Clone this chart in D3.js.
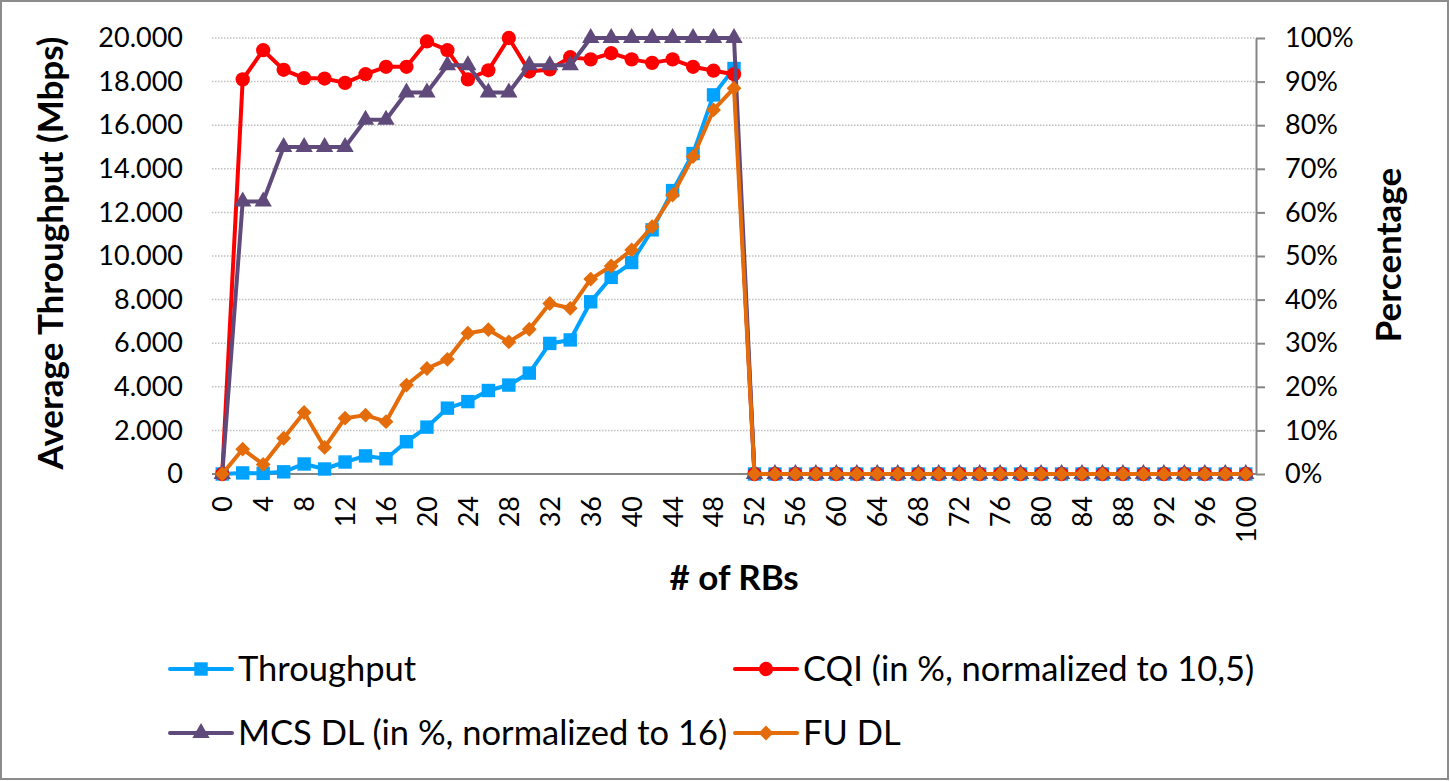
<!DOCTYPE html>
<html>
<head>
<meta charset="utf-8">
<script src="https://cdnjs.cloudflare.com/ajax/libs/d3/7.8.5/d3.min.js"></script>
<style>
  body { margin: 0; background: #fff; }
  svg { display: block; font-family: Lato, "Open Sans", sans-serif; }
</style>
</head>
<body>
<svg id="svg1" width="1450" height="781"></svg>
<script>
// # of RBs (categories)
var rbs = [0, 2, 4, 6, 8, 10, 12, 14, 16, 18, 20, 22, 24, 26, 28, 30, 32, 34, 36, 38, 40,
           42, 44, 46, 48, 50, 52, 54, 56, 58, 60, 62, 64, 66, 68, 70, 72, 74, 76, 78, 80,
           82, 84, 86, 88, 90, 92, 94, 96, 98, 100];

// average throughput, left axis
var throughput = [0, 50, 30, 100, 460, 230, 550, 830, 700, 1480, 2150, 3020, 3320, 3830, 4080, 4630,
                  5990, 6150, 7900, 9020, 9700, 11200, 13000, 14700, 17390, 18600,
                  0, 0, 0, 0, 0, 0, 0, 0, 0, 0, 0, 0, 0, 0, 0, 0, 0, 0, 0, 0, 0, 0, 0, 0, 0];

// percentages, right axis
var cqi = [0, 90.5, 97.2, 92.7, 90.8, 90.7, 89.7, 91.7, 93.4, 93.4, 99.2, 97.2, 90.5, 92.6, 100, 92.3,
           92.8, 95.6, 95.1, 96.5, 95.1, 94.3, 95.1, 93.4, 92.5, 91.7,
           0, 0, 0, 0, 0, 0, 0, 0, 0, 0, 0, 0, 0, 0, 0, 0, 0, 0, 0, 0, 0, 0, 0, 0, 0];

var mcs = [0, 62.5, 62.5, 75, 75, 75, 75, 81.25, 81.25, 87.5, 87.5, 93.75, 93.75, 87.5, 87.5, 93.75,
           93.75, 93.75, 100, 100, 100, 100, 100, 100, 100, 100,
           0, 0, 0, 0, 0, 0, 0, 0, 0, 0, 0, 0, 0, 0, 0, 0, 0, 0, 0, 0, 0, 0, 0, 0, 0];

var fu = [0, 5.7, 2.2, 8.2, 14.1, 6.1, 12.8, 13.5, 12.0, 20.4, 24.2, 26.3, 32.3, 33.1, 30.3, 33.2,
          39.1, 38.0, 44.7, 47.7, 51.4, 56.7, 64.0, 72.8, 83.5, 88.5,
          0, 0, 0, 0, 0, 0, 0, 0, 0, 0, 0, 0, 0, 0, 0, 0, 0, 0, 0, 0, 0, 0, 0, 0, 0];

var leftTicks = [0, 2000, 4000, 6000, 8000, 10000, 12000, 14000, 16000, 18000, 20000];
var rightTicks = [0, 10, 20, 30, 40, 50, 60, 70, 80, 90, 100];

var series = [
    {name: 'Throughput', values: throughput, axis: 'left', color: '#00a2ff', marker: 'square'},
    {name: 'CQI (in %, normalized to 10,5)', values: cqi, axis: 'right', color: '#ff0000', marker: 'circle'},
    {name: 'MCS DL (in %, normalized to 16)', values: mcs, axis: 'right', color: '#604a7b', marker: 'triangle'},
    {name: 'FU DL', values: fu, axis: 'right', color: '#e46c0a', marker: 'diamond'}
];

var plotLeft = 212, plotRight = 1256, plotTop = 38, plotBottom = 474;

var svg = d3.select('svg');

// chart border
svg.append('rect')
    .attr('x', 1).attr('y', 1).attr('width', 1447).attr('height', 778)
    .attr('fill', '#fff').attr('stroke', '#8c8c8c').attr('stroke-width', 2);

var x = d3.scalePoint().domain(rbs).range([plotLeft, plotRight]).padding(0.5);
var yLeft = d3.scaleLinear().domain([0, 20000]).range([plotBottom, plotTop]);
var yRight = d3.scaleLinear().domain([0, 100]).range([plotBottom, plotTop]);

var locale = d3.formatLocale({decimal: ',', thousands: '.', grouping: [3], currency: ['', '']});
var fmtLeft = locale.format(',d');

// gridlines
svg.append('g').selectAll('line')
    .data(rightTicks.slice(1))
    .enter().append('line')
    .attr('x1', plotLeft).attr('x2', plotRight)
    .attr('y1', function(d) { return yRight(d); })
    .attr('y2', function(d) { return yRight(d); })
    .attr('stroke', '#bfbfbf').attr('stroke-width', 1.5)
    .attr('stroke-dasharray', '1.5,1.5');

// left axis (labels only)
var gLeft = svg.append('g')
    .attr('transform', 'translate(' + plotLeft + ',0)')
    .call(d3.axisLeft(yLeft).tickValues(leftTicks).tickFormat(fmtLeft).tickSize(0).tickPadding(29));
gLeft.select('.domain').remove();

// right axis
var gRight = svg.append('g')
    .attr('transform', 'translate(' + plotRight + ',0)')
    .call(d3.axisRight(yRight).tickValues(rightTicks).tickFormat(function(d) { return d + '%'; })
        .tickSize(9).tickSizeOuter(0).tickPadding(20));
gRight.select('.domain').attr('stroke', '#868686').attr('stroke-width', 2);
gRight.selectAll('.tick line').attr('stroke', '#868686').attr('stroke-width', 2);

// x axis
var gX = svg.append('g')
    .attr('transform', 'translate(0,' + plotBottom + ')')
    .call(d3.axisBottom(x).tickValues(rbs.filter(function(d, i) { return i % 2 === 0; }))
        .tickSize(0).tickSizeOuter(0));
gX.select('.domain').attr('d', 'M' + plotLeft + ',0H' + plotRight)
    .attr('stroke', '#868686').attr('stroke-width', 2);
gX.selectAll('.tick text')
    .attr('transform', 'translate(0,22) rotate(-90)')
    .attr('text-anchor', 'end')
    .attr('x', 0).attr('y', 0).attr('dy', '0.35em');

svg.selectAll('.tick text')
    .attr('fill', '#000')
    .style('font-size', '27px')
    .style('font-family', 'Lato, sans-serif');

// axis titles
svg.append('text')
    .attr('transform', 'translate(63,253) rotate(-90)')
    .attr('text-anchor', 'middle')
    .style('font-size', '35px').style('font-weight', 'bold')
    .text('Average Throughput (Mbps)');

svg.append('text')
    .attr('transform', 'translate(1401,255) rotate(-90)')
    .attr('text-anchor', 'middle')
    .style('font-size', '35px').style('font-weight', 'bold')
    .text('Percentage');

svg.append('text')
    .attr('x', 734).attr('y', 590)
    .attr('text-anchor', 'middle')
    .style('font-size', '35px').style('font-weight', 'bold')
    .text('# of RBs');

// markers
function markerPath(type) {
    if (type === 'square') return d3.symbol().type(d3.symbolSquare).size(180)();
    if (type === 'circle') return d3.symbol().type(d3.symbolCircle).size(160)();
    if (type === 'triangle') return d3.symbol().type(d3.symbolTriangle).size(130)();
    return d3.symbol().type(d3.symbolSquare).size(110)();
}
function markerRotate(type) { return type === 'diamond' ? ' rotate(45)' : ''; }

// lines
series.forEach(function(s) {
    var y = s.axis === 'left' ? yLeft : yRight;
    var line = d3.line()
        .x(function(d, i) { return x(rbs[i]); })
        .y(function(d) { return y(d); });

    var g = svg.append('g');
    g.append('path')
        .datum(s.values)
        .attr('d', line)
        .attr('fill', 'none')
        .attr('stroke', s.color)
        .attr('stroke-width', 4)
        .attr('stroke-linejoin', 'round')
        .attr('stroke-linecap', 'round');

    g.selectAll('path.mk')
        .data(s.values)
        .enter().append('path')
        .attr('class', 'mk')
        .attr('d', markerPath(s.marker))
        .attr('transform', function(d, i) {
            return 'translate(' + x(rbs[i]) + ',' + y(d) + ')' + markerRotate(s.marker);
        })
        .attr('fill', s.color);
});

// legend
var legendPos = [[170, 669], [735, 669], [170, 733], [735, 733]];
var legend = svg.append('g').selectAll('g')
    .data(series)
    .enter().append('g')
    .attr('transform', function(d, i) { return 'translate(' + legendPos[i][0] + ',' + legendPos[i][1] + ')'; });

legend.append('line')
    .attr('x1', 0).attr('x2', 62)
    .attr('stroke', function(d) { return d.color; })
    .attr('stroke-width', 4)
    .attr('stroke-linecap', 'round');

legend.append('path')
    .attr('d', function(d) { return markerPath(d.marker); })
    .attr('transform', function(d) { return 'translate(31,0)' + markerRotate(d.marker); })
    .attr('fill', function(d) { return d.color; });

legend.append('text')
    .attr('x', 68).attr('dy', '0.35em')
    .style('font-size', '34.5px')
    .text(function(d) { return d.name; });
</script>
</body>
</html>
